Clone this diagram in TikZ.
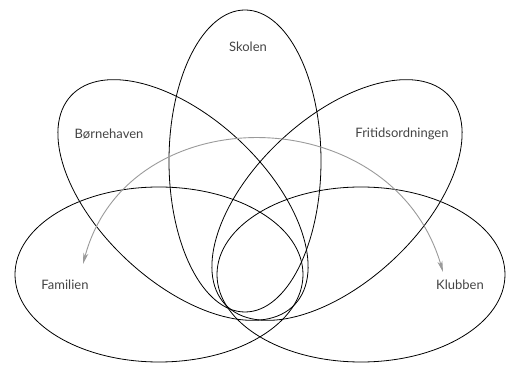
\documentclass[tikz,border=0pt]{standalone}
\usepackage{fontspec}
\setmainfont{Lato}
\usetikzlibrary{arrows.meta}
\definecolor{txt}{HTML}{444444}
\definecolor{arc}{HTML}{9A9A9A}
\begin{document}
\begin{tikzpicture}[x=1pt,y=-1pt,
  set/.style={draw=black,line width=0.8pt},
  lbl/.style={text=txt,font=\fontsize{13}{15}\selectfont,inner sep=0pt}]
\useasboundingbox (0,0) rectangle (507,366);
% ellipses
\draw[set] (245,161) ellipse [x radius=76, y radius=151];
\draw[set] (159,274.5) ellipse [x radius=144, y radius=87.5];
\draw[set] (361,274.5) ellipse [x radius=144, y radius=87.5];
\draw[set] (183,200) ellipse [x radius=153, y radius=82, rotate=-43];
\draw[set] (337,200) ellipse [x radius=153, y radius=82, rotate=43];
% labels
\node[lbl] (skolen) at (248,47) {Skolen};
\node[lbl] (born) at (109,134) {Børnehaven};
\node[lbl] (frit) at (402,134) {Fritidsordningen};
\node[lbl] (fam) at (65,285) {Familien};
\node[lbl] (klub) at (460,285) {Klubben};
\coordinate (a1) at (83,264);
\coordinate (a2) at (443,272);
\draw[arc,line width=0.9pt,{Stealth[length=11pt,width=5pt,inset=3pt]}-{Stealth[length=11pt,width=5pt,inset=3pt]}]
  (a1) .. controls (128,95) and (392,98) .. (a2);
\end{tikzpicture}
\end{document}
